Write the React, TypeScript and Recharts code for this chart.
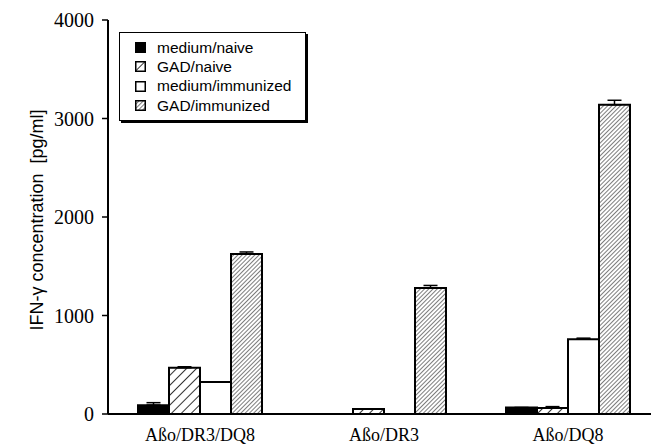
import React from 'react';
import { BarChart, Bar, XAxis, YAxis, Legend, ErrorBar, Label } from 'recharts';

const categories = ['Aßo/DR3/DQ8', 'Aßo/DR3', 'Aßo/DQ8'];
const mediumNaive = [90, 0, 65];
const mediumNaiveErr = [25, 0, 0];
const gadNaive = [470, 50, 60];
const gadNaiveErr = [10, 0, 15];
const mediumImmunized = [325, 0, 760];
const mediumImmunizedErr = [0, 0, 10];
const gadImmunized = [1625, 1280, 3140];
const gadImmunizedErr = [20, 25, 45];
const yTicks = [0, 1000, 2000, 3000, 4000];

const SERIES = [
  { key: 'mediumNaive', name: 'medium/naive', fill: '#000' },
  { key: 'gadNaive', name: 'GAD/naive', fill: 'url(#hatchWide)' },
  { key: 'mediumImmunized', name: 'medium/immunized', fill: '#fff' },
  { key: 'gadImmunized', name: 'GAD/immunized', fill: 'url(#hatchDense)' },
];

const data = categories.map((name, i) => ({
  name,
  mediumNaive: mediumNaive[i],
  mediumNaiveErr: [0, mediumNaiveErr[i]],
  gadNaive: gadNaive[i],
  gadNaiveErr: [0, gadNaiveErr[i]],
  mediumImmunized: mediumImmunized[i],
  mediumImmunizedErr: [0, mediumImmunizedErr[i]],
  gadImmunized: gadImmunized[i],
  gadImmunizedErr: [0, gadImmunizedErr[i]],
}));

const serif = '"Liberation Serif", "Times New Roman", serif';
const sans = '"Liberation Sans", Arial, sans-serif';

const LegendBox = () => (
  <div
    style={{
      border: '1px solid #000',
      boxShadow: '2px 2px 0 #000',
      background: '#fff',
      padding: '5px 10px 5px 15px',
      width: 160,
      fontFamily: sans,
      fontSize: 15.5,
      color: '#000',
    }}
  >
    {SERIES.map(s => (
      <div key={s.key} style={{ display: 'flex', alignItems: 'center', height: 19.3 }}>
        <svg width={11} height={11} style={{ marginRight: 11, flex: 'none' }}>
          <rect x={0.75} y={0.75} width={9.5} height={9.5} fill={s.fill} stroke="#000" strokeWidth={1.5} />
        </svg>
        <span>{s.name}</span>
      </div>
    ))}
  </div>
);

// axis title sits left of the tick labels, rotated
const YLabel = () => (
  <text
    x={37}
    y={220}
    transform="rotate(-90 37 220)"
    textAnchor="middle"
    dominantBaseline="central"
    fontFamily={sans}
    fontSize={18}
    fill="#000"
  >
    {'IFN-γ concentration\u00A0\u00A0[pg/ml]'}
  </text>
);

export default function App() {
  return (
    <div style={{ position: 'absolute', left: 0, top: 0, width: 651, height: 445, overflow: 'hidden', background: '#fff' }}>
      <svg width={0} height={0} style={{ position: 'absolute' }}>
        <defs>
          <pattern id="hatchWide" patternUnits="userSpaceOnUse" width={7} height={7} patternTransform="rotate(45)">
            <rect width={7} height={7} fill="#fff" />
            <line x1={0} y1={0} x2={0} y2={7} stroke="#000" strokeWidth={1.6} />
          </pattern>
          <pattern id="hatchDense" patternUnits="userSpaceOnUse" width={3} height={3} patternTransform="rotate(45)">
            <rect width={3} height={3} fill="#fff" />
            <line x1={0} y1={0} x2={0} y2={3} stroke="#111" strokeWidth={1.1} />
          </pattern>
        </defs>
      </svg>
      <BarChart
        width={660}
        height={445}
        data={data}
        margin={{ top: 20, right: 0, bottom: 0, left: 0 }}
        barSize={31}
        barGap={0}
      >
        <XAxis
          dataKey="name"
          height={31}
          tickLine={false}
          tickSize={6}
          tickMargin={8}
          axisLine={{ stroke: '#000', strokeWidth: 2 }}
          tick={{ fill: '#000', fontFamily: serif, fontSize: 18 }}
        />
        <YAxis
          width={108}
          domain={[0, 4000]}
          ticks={yTicks}
          interval={0}
          tickSize={6}
          tickMargin={8}
          axisLine={{ stroke: '#000', strokeWidth: 2 }}
          tickLine={{ stroke: '#000', strokeWidth: 1.5 }}
          tick={{ fill: '#000', fontFamily: serif, fontSize: 20 }}
        >
          <Label content={<YLabel />} />
        </YAxis>
        <Legend
          layout="vertical"
          align="center"
          verticalAlign="middle"
          wrapperStyle={{ left: 119, top: 32, width: 'auto' }}
          content={<LegendBox />}
        />
        {SERIES.map(s => (
          <Bar
            key={s.key}
            dataKey={s.key}
            name={s.name}
            fill={s.fill}
            stroke="#000"
            strokeWidth={2}
            isAnimationActive={false}
          >
            <ErrorBar dataKey={`${s.key}Err`} direction="y" width={7} stroke="#000" strokeWidth={1.5} />
          </Bar>
        ))}
      </BarChart>
    </div>
  );
}
